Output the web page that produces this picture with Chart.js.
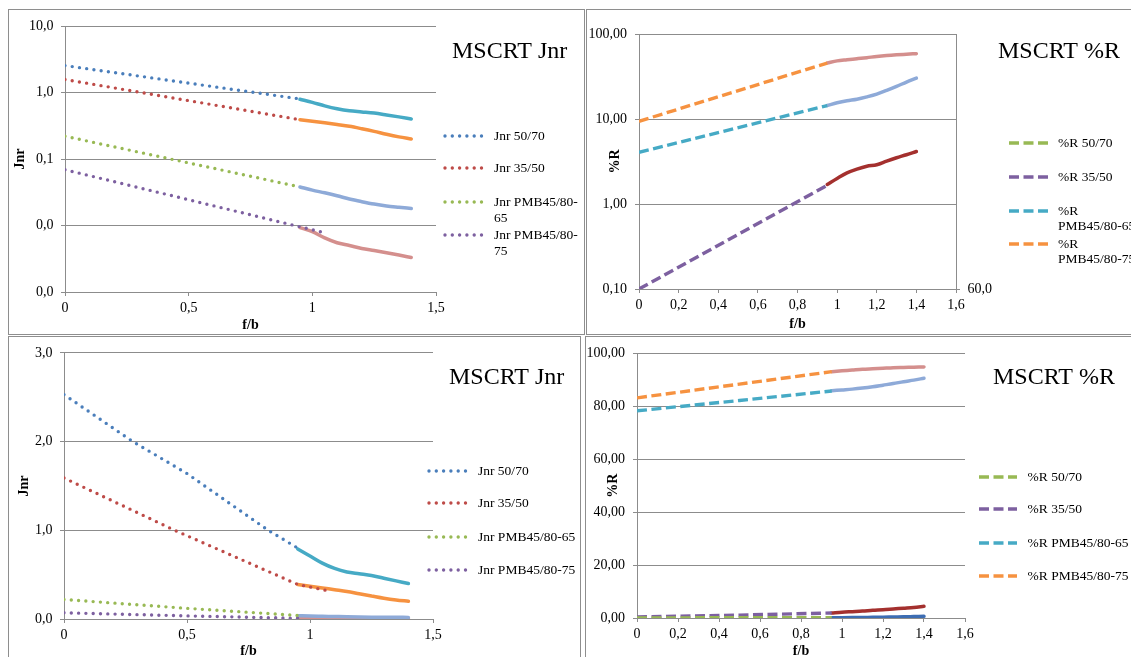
<!DOCTYPE html>
<html>
<head>
<meta charset="utf-8">
<title>MSCRT Jnr / %R</title>
<script src="https://cdn.jsdelivr.net/npm/chart.js@4.4.1/dist/chart.umd.min.js"></script>
<style>
  html, body { margin: 0; padding: 0; background: #fff; }
  body { position: relative; width: 1131px; height: 657px; overflow: hidden; }
  .panel { position: absolute; box-sizing: border-box; border: 1px solid #8e8e8e; overflow: hidden; }
  .panel canvas { position: absolute; left: 0; top: 0; }
</style>
</head>
<body>
<div class="panel" style="left:8px; top:9px; width:577px; height:326px;"><canvas id="jnrLog" width="575" height="324"></canvas></div>
<div class="panel" style="left:586px; top:9px; width:560px; height:326px;"><canvas id="prLog" width="558" height="324"></canvas></div>
<div class="panel" style="left:8px; top:336px; width:573px; height:330px;"><canvas id="jnrLin" width="571" height="328"></canvas></div>
<div class="panel" style="left:585px; top:336px; width:560px; height:330px;"><canvas id="prLin" width="558" height="328"></canvas></div>

<script>
// ---- data ----
// measured part (f/b 0.95 .. 1.4), same x for every solid line
const solidX = [0.95, 1.0, 1.05, 1.1, 1.15, 1.2, 1.25, 1.3, 1.35, 1.4];

// Jnr measured (both Jnr charts)
const jnr5070 = [0.79, 0.71, 0.63, 0.57, 0.53, 0.51, 0.49, 0.46, 0.43, 0.40];
const jnr3550 = [0.39, 0.37, 0.35, 0.33, 0.31, 0.285, 0.26, 0.235, 0.215, 0.20];
const jnrPmb65 = [0.038, 0.034, 0.031, 0.028, 0.025, 0.0228, 0.021, 0.0197, 0.0188, 0.018];
const jnrPmb75 = [0.0093, 0.0081, 0.0065, 0.0055, 0.005, 0.0045, 0.0042, 0.0039, 0.0036, 0.0033];

// Jnr trend lines, log chart
const jnrLogTrendX = [0, 0.95];
const jnrLogTrend5070 = [2.54, 0.80];
const jnrLogTrend3550 = [1.57, 0.39];
const jnrLogTrendPmb65 = [0.22, 0.038];
const jnrLogTrendPmb75X = [0, 1.06];
const jnrLogTrendPmb75 = [0.069, 0.0076];

// Jnr trend lines, linear chart
const jnrLinTrend5070X = [0, 0.28, 0.5, 0.83, 0.95];
const jnrLinTrend5070 = [2.53, 2.0, 1.64, 1.0, 0.80];
const jnrLinTrend3550X = [0, 0.45, 0.95, 1.07];
const jnrLinTrend3550 = [1.59, 1.0, 0.39, 0.32];
const jnrLinTrendPmbX = [0, 0.5, 0.95];
const jnrLinTrendPmb65 = [0.22, 0.12, 0.04];
const jnrLinTrendPmb75 = [0.07, 0.035, 0.008];

// %R, log chart
const prLogTrendX = [0, 0.95];
const prLogTrend5070 = [0.05, 0.06];
const prLogTrend3550 = [0.10, 1.66];
const prLogTrendPmb65 = [4.05, 14.4];
const prLogTrendPmb75 = [9.4, 45.5];
const prLog3550 = [1.7, 2.0, 2.32, 2.57, 2.78, 2.9, 3.2, 3.5, 3.8, 4.15];
const prLogPmb65 = [14.4, 15.5, 16.4, 17.1, 18.2, 19.6, 21.7, 24.2, 27.2, 30.3];
const prLogPmb75 = [45.5, 48.3, 49.8, 51.2, 52.7, 54.4, 55.8, 56.9, 57.8, 58.7];

// %R, linear chart
const prLinTrendX = [0, 0.5, 0.95];
const prLinTrend5070 = [0.05, 0.08, 0.1];
const prLinTrend3550 = [0.4, 1.1, 1.9];
const prLinTrendPmb65 = [78.3, 82.2, 85.8];
const prLinTrendPmb75 = [83.2, 88.4, 93.1];
const prLin5070 = [0.1, 0.12, 0.15, 0.2, 0.25, 0.3, 0.38, 0.45, 0.55, 0.65];
const prLin3550 = [1.9, 2.2, 2.4, 2.6, 2.9, 3.1, 3.4, 3.7, 4.0, 4.4];
const prLinPmb65 = [85.9, 86.2, 86.5, 86.9, 87.4, 88.0, 88.6, 89.3, 89.9, 90.6];
const prLinPmb75 = [93.1, 93.4, 93.7, 94.0, 94.2, 94.4, 94.6, 94.7, 94.8, 94.9];

// tick values
const jnrLogTicks = [0.001, 0.01, 0.1, 1, 10];
const prLogTicks = [0.1, 1, 10, 100];
const prLogRightTicks = [60];

// ---- styles ----
Chart.defaults.font.family = '"Liberation Serif", "Times New Roman", serif';
Chart.defaults.font.size = 14;
Chart.defaults.color = '#000';

const gridColor = '#8c8c8c';
const col = {
  blue: '#4A7EBB', red: '#BE4B48', green: '#98B954', purple: '#7D60A0',
  teal: '#46AAC5', orange: '#F69240', lightBlue: '#8EAAD8', pink: '#D48F8D',
  darkRed: '#A4302E', darkBlue: '#3D6DB3'
};

const pts = (xs, ys) => xs.map((x, i) => ({ x: x, y: ys[i] }));

function dotted(label, color, data) {
  return { label, data, borderColor: color, backgroundColor: color, borderWidth: 3.4,
    borderDash: [0, 7.3], borderCapStyle: 'round', pointRadius: 0, tension: 0 };
}
function dashed(label, color, data) {
  return { label, data, borderColor: color, backgroundColor: color, borderWidth: 3.4,
    borderDash: [10, 4.5], borderCapStyle: 'butt', pointRadius: 0, tension: 0 };
}
function solid(label, color, data) {
  return { label, data, borderColor: color, backgroundColor: color, borderWidth: 3.5,
    borderCapStyle: 'round', pointRadius: 0, cubicInterpolationMode: 'monotone' };
}

const comma = (v, d) => Number(v).toFixed(d).replace('.', ',');
const xLabel = v => String(Math.round(v * 10) / 10).replace('.', ',');

// title + legend drawn beside the plot, like the spreadsheet layout
const panelText = {
  id: 'panelText',
  afterDraw(chart, args, o) {
    const ctx = chart.ctx;
    ctx.save();
    ctx.fillStyle = '#000';
    ctx.textBaseline = 'middle';
    ctx.textAlign = 'left';
    ctx.font = '24px "Liberation Serif"';
    ctx.fillText(o.title, o.titleX, o.titleY);
    ctx.font = '13.5px "Liberation Serif"';
    o.rows.forEach((y, i) => {
      const ds = chart.data.datasets[i];
      ctx.save();
      ctx.strokeStyle = ds.borderColor;
      ctx.lineWidth = ds.borderWidth;
      ctx.lineCap = ds.borderCapStyle;
      ctx.setLineDash(ds.borderDash || []);
      ctx.beginPath();
      ctx.moveTo(o.x1, y);
      ctx.lineTo(o.x2, y);
      ctx.stroke();
      ctx.restore();
      const lines = (o.wrap && o.wrap[i]) || [ds.label];
      lines.forEach((t, k) => ctx.fillText(t, o.textX, y + k * o.lh));
    });
    ctx.restore();
  }
};

function makeChart(id, cfg) {
  const cv = document.getElementById(id);
  const W = cv.width, H = cv.height, a = cfg.area;
  const rightW = cfg.y2 ? 45 : 0;
  const scales = {
    x: {
      type: 'linear', min: 0, max: cfg.xMax,
      ticks: { stepSize: cfg.xStep, callback: xLabel, maxRotation: 0, autoSkip: false, padding: 3.5 },
      grid: { drawOnChartArea: false, tickLength: 4, color: gridColor },
      border: { color: gridColor },
      title: { display: true, text: 'f/b', font: { weight: 'bold', size: 14 }, padding: { top: 0, bottom: cfg.xTitlePad } },
      afterFit: s => { s.height = H - a.bottom; }
    },
    y: Object.assign({
      position: 'left',
      grid: { color: gridColor, tickLength: 4 },
      border: { color: gridColor },
      title: { display: true, text: cfg.yTitle, font: { weight: 'bold', size: 14 }, padding: { top: cfg.yTitlePad, bottom: 0 } },
      afterFit: s => { s.width = a.left; }
    }, cfg.y)
  };
  if (cfg.y2) {
    scales.y2 = {
      type: 'linear', position: 'right', min: 60, max: 61,
      afterBuildTicks: s => { s.ticks = prLogRightTicks.map(v => ({ value: v })); },
      ticks: { callback: v => comma(v, 1), padding: 7.5 },
      grid: { drawOnChartArea: false, tickLength: 4, color: gridColor },
      border: { color: gridColor },
      afterFit: s => { s.width = rightW; }
    };
  }
  return new Chart(cv, {
    type: 'line',
    data: { datasets: cfg.datasets },
    options: {
      responsive: false,
      animation: false,
      devicePixelRatio: 1,
      layout: { padding: { left: 0, top: a.top, right: W - a.right - rightW, bottom: 0 } },
      scales: scales,
      plugins: { legend: { display: false }, tooltip: { enabled: false }, panelText: cfg.text }
    },
    plugins: [panelText]
  });
}

// MSCRT Jnr, log scale
makeChart('jnrLog', {
  area: { left: 56, top: 16, right: 427, bottom: 282 },
  xMax: 1.5, xStep: 0.5, xTitlePad: 0.6,
  yTitle: 'Jnr', yTitlePad: 3,
  y: {
    type: 'logarithmic', min: 0.001, max: 10,
    afterBuildTicks: s => { s.ticks = jnrLogTicks.map(v => ({ value: v })); },
    ticks: { callback: v => comma(v, 1), padding: 7.5 }
  },
  datasets: [
    dotted('Jnr 50/70', col.blue, pts(jnrLogTrendX, jnrLogTrend5070)),
    dotted('Jnr 35/50', col.red, pts(jnrLogTrendX, jnrLogTrend3550)),
    dotted('Jnr PMB45/80-65', col.green, pts(jnrLogTrendX, jnrLogTrendPmb65)),
    dotted('Jnr PMB45/80-75', col.purple, pts(jnrLogTrendPmb75X, jnrLogTrendPmb75)),
    solid('Jnr 50/70 m', col.teal, pts(solidX, jnr5070)),
    solid('Jnr 35/50 m', col.orange, pts(solidX, jnr3550)),
    solid('Jnr PMB45/80-65 m', col.lightBlue, pts(solidX, jnrPmb65)),
    solid('Jnr PMB45/80-75 m', col.pink, pts(solidX, jnrPmb75))
  ],
  text: {
    title: 'MSCRT Jnr', titleX: 443, titleY: 42,
    x1: 436, x2: 476, textX: 485, lh: 16.5,
    rows: [126, 158, 192, 225],
    wrap: [null, null, ['Jnr PMB45/80-', '65'], ['Jnr PMB45/80-', '75']]
  }
});

// MSCRT %R, log scale
makeChart('prLog', {
  area: { left: 52, top: 24, right: 369, bottom: 279 },
  xMax: 1.6, xStep: 0.2, xTitlePad: 1.6,
  yTitle: '%R', yTitlePad: 19.5,
  y2: true,
  y: {
    type: 'logarithmic', min: 0.1, max: 100,
    afterBuildTicks: s => { s.ticks = prLogTicks.map(v => ({ value: v })); },
    ticks: { callback: v => comma(v, 2), padding: 8 }
  },
  datasets: [
    dashed('%R 50/70', col.green, pts(prLogTrendX, prLogTrend5070)),
    dashed('%R 35/50', col.purple, pts(prLogTrendX, prLogTrend3550)),
    dashed('%R PMB45/80-65', col.teal, pts(prLogTrendX, prLogTrendPmb65)),
    dashed('%R PMB45/80-75', col.orange, pts(prLogTrendX, prLogTrendPmb75)),
    solid('%R 35/50 m', col.darkRed, pts(solidX, prLog3550)),
    solid('%R PMB45/80-65 m', col.lightBlue, pts(solidX, prLogPmb65)),
    solid('%R PMB45/80-75 m', col.pink, pts(solidX, prLogPmb75))
  ],
  text: {
    title: 'MSCRT %R', titleX: 411, titleY: 42,
    x1: 422, x2: 461, textX: 471, lh: 15.5,
    rows: [133, 167, 201, 234],
    wrap: [null, null, ['%R', 'PMB45/80-65'], ['%R', 'PMB45/80-75']]
  }
});

// MSCRT Jnr, linear scale
makeChart('jnrLin', {
  area: { left: 55, top: 15, right: 424, bottom: 282 },
  xMax: 1.5, xStep: 0.5, xTitlePad: 4.9,
  yTitle: 'Jnr', yTitlePad: 6.9,
  y: {
    type: 'linear', min: 0, max: 3,
    ticks: { stepSize: 1, callback: v => comma(v, 1), padding: 7.5 }
  },
  datasets: [
    dotted('Jnr 50/70', col.blue, pts(jnrLinTrend5070X, jnrLinTrend5070)),
    dotted('Jnr 35/50', col.red, pts(jnrLinTrend3550X, jnrLinTrend3550)),
    dotted('Jnr PMB45/80-65', col.green, pts(jnrLinTrendPmbX, jnrLinTrendPmb65)),
    dotted('Jnr PMB45/80-75', col.purple, pts(jnrLinTrendPmbX, jnrLinTrendPmb75)),
    solid('Jnr 50/70 m', col.teal, pts(solidX, jnr5070)),
    solid('Jnr 35/50 m', col.orange, pts(solidX, jnr3550)),
    solid('Jnr PMB45/80-65 m', col.lightBlue, pts(solidX, jnrPmb65)),
    solid('Jnr PMB45/80-75 m', col.pink, pts(solidX, jnrPmb75))
  ],
  text: {
    title: 'MSCRT Jnr', titleX: 440, titleY: 41,
    x1: 420, x2: 460, textX: 469, lh: 16,
    rows: [134, 166, 200, 233]
  }
});

// MSCRT %R, linear scale
makeChart('prLin', {
  area: { left: 51, top: 16, right: 379, bottom: 281 },
  xMax: 1.6, xStep: 0.2, xTitlePad: 4.9,
  yTitle: '%R', yTitlePad: 18.5,
  y: {
    type: 'linear', min: 0, max: 100,
    ticks: { stepSize: 20, callback: v => comma(v, 2), padding: 8 }
  },
  datasets: [
    dashed('%R 50/70', col.green, pts(prLinTrendX, prLinTrend5070)),
    dashed('%R 35/50', col.purple, pts(prLinTrendX, prLinTrend3550)),
    dashed('%R PMB45/80-65', col.teal, pts(prLinTrendX, prLinTrendPmb65)),
    dashed('%R PMB45/80-75', col.orange, pts(prLinTrendX, prLinTrendPmb75)),
    solid('%R 50/70 m', col.darkBlue, pts(solidX, prLin5070)),
    solid('%R 35/50 m', col.darkRed, pts(solidX, prLin3550)),
    solid('%R PMB45/80-65 m', col.lightBlue, pts(solidX, prLinPmb65)),
    solid('%R PMB45/80-75 m', col.pink, pts(solidX, prLinPmb75))
  ],
  text: {
    title: 'MSCRT %R', titleX: 407, titleY: 41,
    x1: 393, x2: 431, textX: 441.5, lh: 16,
    rows: [140, 172, 206, 239]
  }
});
</script>
</body>
</html>
